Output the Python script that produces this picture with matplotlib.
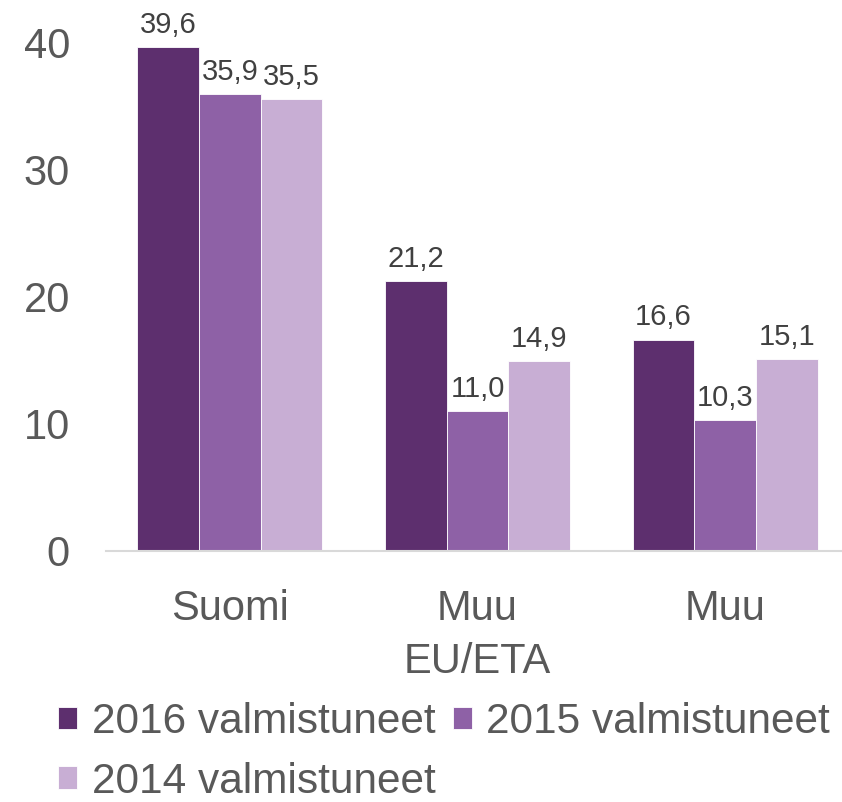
import numpy as np
import matplotlib.pyplot as plt

plt.rcParams['font.family'] = ['Liberation Sans', 'DejaVu Sans']

# ---------------- data ----------------
categories = ['Suomi', 'Muu\nEU/ETA', 'Muu']
series_names = ['2016 valmistuneet', '2015 valmistuneet', '2014 valmistuneet']
v2016 = [39.6, 21.2, 16.6]
v2015 = [35.9, 11.0, 10.3]
v2014 = [35.5, 14.9, 15.1]
yticks = [0, 10, 20, 30, 40]

colors = ['#5D2F6E', '#8E61A6', '#C8AED4']
gray = '#595959'

# ---------------- plot ----------------
fig = plt.figure(figsize=(8.42, 8.02), dpi=100)
W, H = 842, 802
ax = fig.add_axes([106 / W, (H - 551) / H, (849 - 106) / W, (551 - 42) / H])

x = np.arange(len(categories))
w = 0.249
for i, (vals, name) in enumerate(zip([v2016, v2015, v2014], series_names)):
    bars = ax.bar(x + (i - 1) * w, vals, w, color=colors[i], label=name,
                  edgecolor='white', linewidth=0.6)
    ax.bar_label(bars, labels=[f'{v:.1f}'.replace('.', ',') for v in vals],
                 padding=6, fontsize=21, color='#404040')

ax.set_xlim(-0.5, len(categories) - 0.5)
ax.set_ylim(0, 40)
ax.set_yticks(yticks)
ax.set_yticklabels([str(t) for t in yticks])
ax.set_xticks(x)
ax.set_xticklabels(categories, linespacing=1.45)
ax.tick_params(axis='y', length=0, pad=26, labelsize=30, labelcolor=gray)
ax.tick_params(axis='x', length=0, pad=27, labelsize=30, labelcolor=gray)

for s in ['top', 'right', 'left']:
    ax.spines[s].set_visible(False)
ax.spines['bottom'].set_color('#D9D9D9')
ax.spines['bottom'].set_linewidth(1.5)

# legend fills column-wise: 2016 and 2014 in the first column, 2015 in the second
handles, labels = ax.get_legend_handles_labels()
order = [0, 2, 1]
leg = fig.legend([handles[k] for k in order], [labels[k] for k in order],
                 loc='upper left', bbox_to_anchor=(58 / W, 1 - 702 / H),
                 ncol=2, frameon=False, fontsize=30.5, handlelength=0.45, handleheight=0.45,
                 handletextpad=0.35, columnspacing=0.4, labelspacing=0.47, borderpad=0,
                 borderaxespad=0)
for t in leg.get_texts():
    t.set_color(gray)

fig.savefig('out.png', dpi=100)
